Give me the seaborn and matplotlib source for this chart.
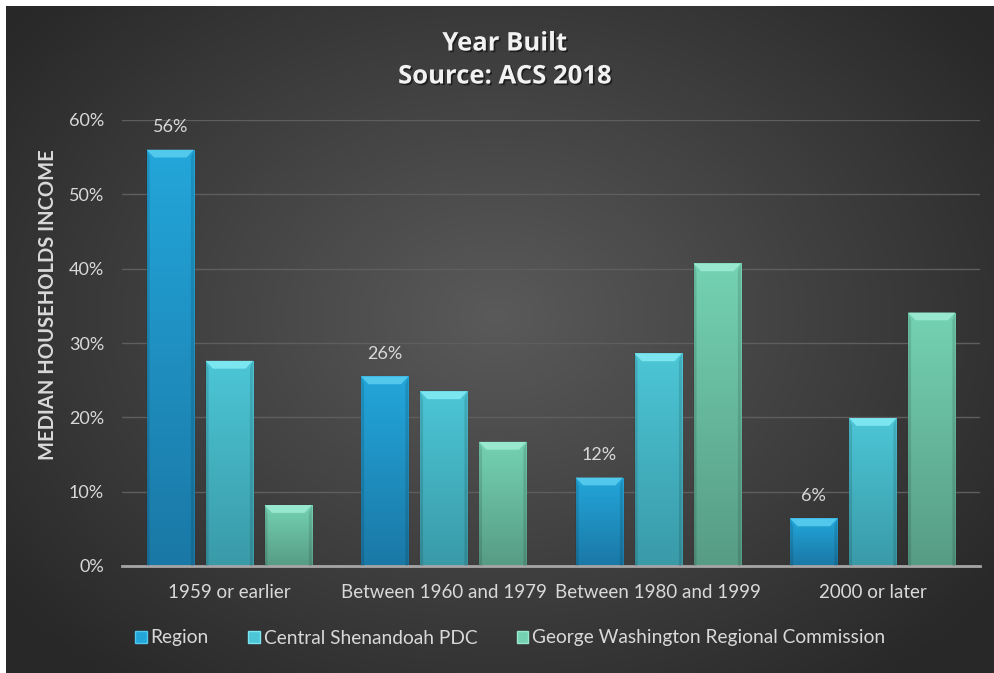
import numpy as np
import pandas as pd
import matplotlib
matplotlib.use('Agg')
import matplotlib.pyplot as plt
import matplotlib.patheffects as pe
from matplotlib.patches import Polygon, Patch
from matplotlib.colors import to_rgb
import seaborn as sns

## data (percent)
categories = ['1959 or earlier', 'Between 1960 and 1979', 'Between 1980 and 1999', '2000 or later']
series = ['Region', 'Central Shenandoah PDC', 'George Washington Regional Commission']
region = [56.0, 25.5, 11.9, 6.4]
central = [27.6, 23.5, 28.6, 19.9]
gwrc = [8.2, 16.7, 40.7, 34.1]
region_labels = ['56%', '26%', '12%', '6%']
yticks = [0, 10, 20, 30, 40, 50, 60]

## colours: (top, bottom, bevel) for each series
top_cols = ['#23a6da', '#4cc6d6', '#74d2b2']
bot_cols = ['#1a78a6', '#3a9aa8', '#579c85']
bevel_cols = ['#52c8ec', '#7ce6f0', '#98e8d0']
txt_col = '#d9d9d9'

df = pd.DataFrame({
    'category': categories * 3,
    'series': [series[0]] * 4 + [series[1]] * 4 + [series[2]] * 4,
    'value': region + central + gwrc,
})

sns.set_theme(style='dark')
plt.rcParams['font.family'] = ['Lato', 'DejaVu Sans']

fig = plt.figure(figsize=(9.94, 6.73), dpi=100)
fig.patch.set_facecolor('white')

## dark radial background panel
bg = fig.add_axes([6 / 994, 0, 988 / 994, 667 / 673])
hh, ww = 667, 988
yy, xx = np.mgrid[0:hh, 0:ww]
d = np.sqrt(((xx - 490) / 620.0) ** 2 + ((yy - 310) / 470.0) ** 2)
d = np.clip(d, 0, 1)
c_in = np.array(to_rgb('#5a5a5a'))
c_out = np.array(to_rgb('#282828'))
img = c_in[None, None, :] * (1 - d[..., None]) + c_out[None, None, :] * d[..., None]
bg.imshow(img, aspect='auto', interpolation='bilinear')
bg.set_axis_off()

ax = fig.add_axes([122 / 994, 1 - 566 / 673, 858 / 994, 446 / 673])
ax.set_facecolor('none')
sns.barplot(data=df, x='category', y='value', hue='series', palette=top_cols,
            width=0.825, gap=0.2, ax=ax, legend=False, saturation=1)

ax.set_xlim(-0.5, 3.5)
ax.set_ylim(0, 60)

## gradient + bevel on each bar
for k, cont in enumerate(ax.containers):
    t = np.array(to_rgb(top_cols[k]))
    b = np.array(to_rgb(bot_cols[k]))
    grad = np.linspace(0, 1, 100)[:, None, None]
    gimg = t[None, None, :] * (1 - grad) + b[None, None, :] * grad
    for rect in cont.patches:
        x0, w, h = rect.get_x(), rect.get_width(), rect.get_height()
        rect.set_facecolor('none')
        rect.set_edgecolor((0, 0, 0, 0.25))
        rect.set_linewidth(0.8)
        im = ax.imshow(gimg, extent=[x0, x0 + w, 0, h], aspect='auto', zorder=2)
        im.set_clip_path(rect)
        dx, dy = 0.034, 1.05
        ax.add_patch(Polygon([(x0, h), (x0 + w, h), (x0 + w - dx, h - dy), (x0 + dx, h - dy)],
                             closed=True, facecolor=bevel_cols[k], edgecolor='none', zorder=3))
        ax.add_patch(Polygon([(x0, 0), (x0 + dx * 0.4, 0), (x0 + dx * 0.4, h - dy), (x0, h)],
                             closed=True, facecolor=(0, 0, 0, 0.12), edgecolor='none', zorder=3))
        ax.add_patch(Polygon([(x0 + w, 0), (x0 + w - dx * 0.4, 0), (x0 + w - dx * 0.4, h - dy), (x0 + w, h)],
                             closed=True, facecolor=(0, 0, 0, 0.12), edgecolor='none', zorder=3))

## data labels on Region bars
for rect, lab in zip(ax.containers[0].patches, region_labels):
    ax.text(rect.get_x() + rect.get_width() / 2, rect.get_height() + 3.0, lab,
            ha='center', va='center', fontsize=13, color=txt_col)

ax.set_xlim(-0.5, 3.5)
ax.set_ylim(0, 60)
ax.set_yticks(yticks)
ax.set_yticklabels([f'{v}%' for v in yticks])
ax.set_xlabel('')
ax.set_ylabel('')
ax.grid(axis='y', color='#5e5e5e', linewidth=1)
ax.grid(axis='x', visible=False)
ax.set_axisbelow(True)
for s in ['top', 'right', 'left']:
    ax.spines[s].set_visible(False)
ax.spines['bottom'].set_color('#a6a6a6')
ax.spines['bottom'].set_linewidth(2)
ax.tick_params(axis='y', colors=txt_col, labelsize=13, length=0, pad=13)
ax.tick_params(axis='x', colors=txt_col, labelsize=13.5, length=0, pad=13)

## y axis title
fig.text(48.5 / 994, 1 - 305 / 673, 'MEDIAN HOUSEHOLDS INCOME', rotation=90,
         ha='center', va='center', fontsize=14.5, fontweight='bold', color=txt_col)

## chart title with soft shadow
shadow = [pe.withSimplePatchShadow(offset=(1.2, -1.2), shadow_rgbFace='black', alpha=0.5)]
fig.text(505 / 994, 1 - 43 / 673, 'Year Built', ha='center', va='center', family='Open Sans',
         fontsize=18.5, fontweight='bold', color='#f2f2f2', path_effects=shadow)
fig.text(505 / 994, 1 - 76 / 673, 'Source: ACS 2018', ha='center', va='center', family='Open Sans',
         fontsize=18.5, fontweight='bold', color='#f2f2f2', path_effects=shadow)

## legend
handles = [Patch(facecolor=top_cols[i], edgecolor=bevel_cols[i], linewidth=1) for i in range(3)]
fig.legend(handles, series, loc='center', bbox_to_anchor=(510 / 994, 1 - 638 / 673), ncol=3,
           frameon=False, fontsize=13.8, labelcolor=txt_col, handlelength=0.62, handleheight=0.62,
           handletextpad=0.2, columnspacing=2.05)

fig.savefig('out.png', dpi=100, facecolor=fig.get_facecolor())
